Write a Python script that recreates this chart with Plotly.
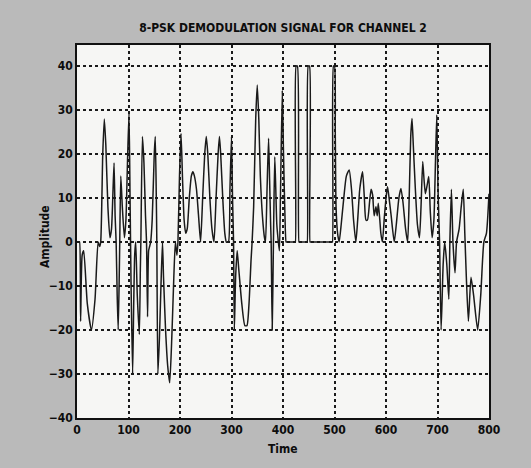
import plotly.graph_objects as go

# ---- data (time, amplitude) ----
time = [0, 4, 5, 7, 10, 13, 20, 28, 35, 41, 44,
        46, 50, 53, 56, 60, 64, 67, 70, 72, 74, 76, 78, 80, 82, 83, 85, 88, 92, 95, 98,
        101, 103, 105, 108, 110, 112,
        114, 117, 121, 123, 124, 127, 130, 133, 135, 137, 139, 141, 143,
        146, 150, 152, 154, 155, 157, 160, 163, 166, 168, 172, 176, 180, 184, 188, 191,
        194, 196, 199, 202, 205, 208, 211,
        214, 218, 222, 225, 228, 232, 236, 240, 244, 248, 251, 254, 258, 262, 266,
        270, 274, 276.6, 279, 283, 287, 290, 294, 297, 300, 302, 304, 305.5, 308, 311,
        314, 320, 326, 330, 334, 338, 340,
        343, 347, 350, 353, 356, 360, 364, 366, 369, 372, 374, 376, 377, 379, 381, 382,
        384, 386, 388, 391, 393, 395, 398.6, 401, 404, 406,
        407, 415, 423, 424, 425.5, 428, 431, 432, 439, 446, 447, 449, 451.5, 452.5,
        453.5, 470, 495, 496, 498, 500, 501.5, 503, 506, 509,
        513, 518, 523, 528.5, 533, 537, 541.5, 545, 549, 554.5, 558, 561, 564, 568, 571,
        574, 577, 580.5, 583, 585, 588, 590, 593, 597, 601, 603, 606,
        610, 616, 620, 625, 629, 633, 638, 642, 645, 648, 650.5, 653, 657, 661, 665,
        668, 671.3, 674, 676.5, 680, 683, 686, 689.5, 693, 696, 698.6, 701, 704,
        707, 711, 714, 718, 722, 724, 727, 730, 734, 737, 742, 746, 750, 753, 756, 760,
        765, 770, 778, 784, 790, 795, 800]
amplitude = [0, 0, 0, -18, -3, -2, -14, -20, -13, 0, -1,
             0, 20, 28, 22, 8, 1, 3, 12, 18, 6, 0, -12, -20, -8, 0, 15, 8, 1, 5, 18,
             29.5, 10, -10, -30, -15, -3,
             0, -12, -21, -6, 0, 24, 18, 6, 0, -17, -2, -1, 0,
             5, 20, 24, 10, 0, -30, -22, -10, 0, -8, -20, -28, -32, -22, -8, 0,
             -3, 0, 15, 24.7, 14, 5, 2,
             3, 10, 15, 16, 15, 12, 6, 0, 10, 20, 24, 20, 10, 3, 0,
             10, 20, 24, 20, 10, 2, 0, 0, 12, 24, 10, 0, -20, -8, -2,
             -6, -14, -19, -19, -14, -4, 0,
             8, 28, 35.7, 28, 15, 6, 1, 0, 12, 23.6, 14, 4, 0, -20, -4, 5,
             19.4, 12, 4, 0, -2, 10, 34.5, 20, 5, 0,
             0, 0, 0, 0, 40, 40, 0, 0, 0, 0, 0, 40, 40, 0,
             0, 0, 0, 0, 40, 40, 25, 8, 2, 0,
             4, 10, 15, 16.4, 12, 5, 0, 5, 12, 16, 10, 5, 5, 9, 12,
             10.7, 6, 8, 6, 8.8, 5, 2, 0, 6, 11, 12.6, 10,
             6, 0, 4, 10, 12.2, 9, 3, 0, 10, 24, 28.1, 22, 12, 4, 1,
             8, 18.3, 14, 11, 13, 14.9, 7, 1, 5, 18, 28.9, 12, 0,
             -20, -5, 0, -5, -13, 0, 12, 0, -7, 0, 3, 8, 12, 2, -8, -18,
             -8, -12, -20, -12, 0, 2, 11]

x_ticks = [0, 100, 200, 300, 400, 500, 600, 700, 800]
y_ticks = [-40, -30, -20, -10, 0, 10, 20, 30, 40]

title_text = "8-PSK DEMODULATION SIGNAL FOR CHANNEL 2"
x_label = "Time"
y_label = "Amplitude"

FONT = "DejaVu Sans Condensed, Liberation Sans Narrow, Arial Narrow, Liberation Sans, Arial, sans-serif"
INK = "#0d0d0d"

fig = go.Figure()
fig.add_trace(go.Scatter(x=time, y=amplitude, mode="lines",
                         line=dict(color="#1a1a1a", width=1.5, shape="spline", smoothing=0.55),
                         showlegend=False, hoverinfo="skip"))

axis_common = dict(showline=True, linecolor="#111111", linewidth=1.7, mirror=True,
                   showgrid=True, gridcolor="#1a1a1a", gridwidth=1.5, griddash="3px,3px",
                   zeroline=False, ticks="",
                   tickfont=dict(family=FONT, size=12, color=INK, weight="bold"))

fig.update_layout(
    width=531, height=468,
    margin=dict(l=77, r=42, t=45, b=50),
    paper_bgcolor="#bababa",
    plot_bgcolor="#f6f6f4",
    title=dict(text=title_text, x=283 / 531, xanchor="center", y=1 - 28 / 468, yanchor="middle",
               font=dict(family=FONT, size=12, color=INK, weight="bold")),
    xaxis=dict(range=[0, 800], tickvals=x_ticks, **axis_common),
    yaxis=dict(range=[-40, 44.8], tickvals=y_ticks, **axis_common),
    annotations=[
        dict(text=x_label, xref="paper", yref="paper", x=0.5, y=(418 - 449) / 373,
             xanchor="center", yanchor="middle", showarrow=False,
             font=dict(family=FONT, size=12, color=INK, weight="bold")),
        dict(text=y_label, xref="paper", yref="paper", x=(45 - 77) / 412, y=(418 - 237) / 373,
             xanchor="center", yanchor="middle", showarrow=False, textangle=-90,
             font=dict(family=FONT, size=12, color=INK, weight="bold")),
    ],
)

fig.write_html("out.html")
